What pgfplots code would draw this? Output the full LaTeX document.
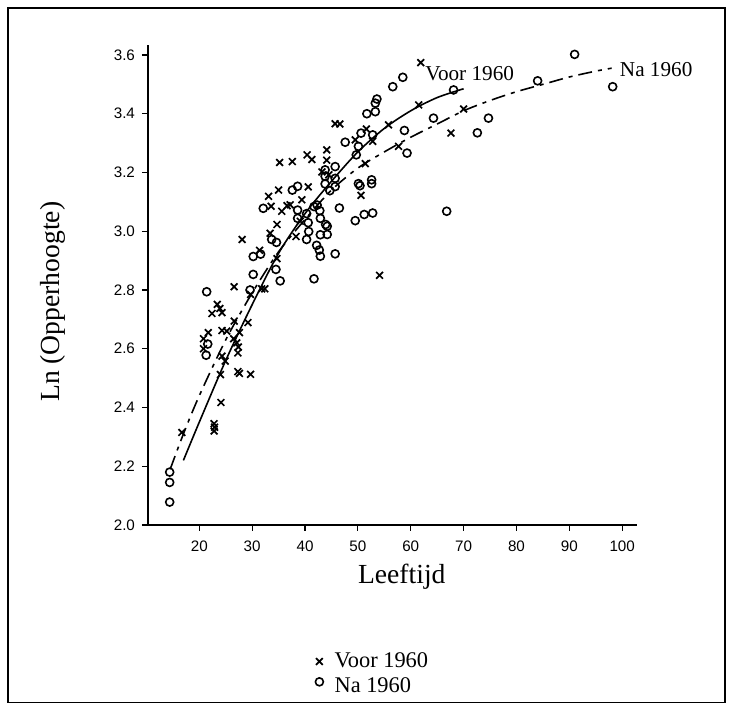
\documentclass[border=0pt]{standalone}
\usepackage{fontspec}
\setmainfont{Liberation Serif}
\newfontfamily\tickfont{Liberation Sans}
\usepackage{pgfplots}
\pgfplotsset{compat=1.18}
\usepackage{pgfplotstable}

\pgfplotsset{
    markleg/.style={legend image code/.code={\draw[##1] plot coordinates {(0pt,0pt)};}},
    marklegup/.style={legend image code/.code={\draw[##1] plot coordinates {(0pt,2.5pt)};}},
}

% metingen voor 1960 (kruisjes)
\pgfplotstableread{
x y
16.7 2.315
22.8 2.345
22.9 2.333
22.8 2.320
24.1 2.417
24.0 2.512
27.3 2.522
27.6 2.516
29.7 2.513
24.9 2.558
24.3 2.575
27.3 2.586
20.8 2.600
26.5 2.634
27.1 2.620
27.4 2.606
20.8 2.634
21.7 2.655
24.3 2.662
25.2 2.660
27.6 2.655
26.6 2.694
29.2 2.689
22.4 2.720
24.3 2.723
23.4 2.751
23.9 2.737
26.6 2.811
29.7 2.785
31.8 2.804
32.4 2.804
28.1 2.972
31.4 2.935
34.7 2.907
33.4 2.993
34.7 3.023
38.3 2.982
33.1 3.119
33.6 3.085
35.0 3.140
35.6 3.068
36.6 3.087
37.2 3.090
39.4 3.107
40.6 3.151
39.1 3.034
35.2 3.234
37.6 3.237
40.4 3.260
41.3 3.244
44.1 3.277
44.1 3.242
43.2 3.202
44.5 3.192
45.7 3.366
46.6 3.365
49.5 3.311
51.6 3.348
52.8 3.306
51.4 3.230
50.6 3.122
54.1 2.850
55.8 3.362
57.7 3.289
61.5 3.430
61.9 3.574
67.6 3.334
70.0 3.416
}\voor

% metingen na 1960 (rondjes)
\pgfplotstableread{
x y
14.4 2.180
14.4 2.145
14.4 2.078
21.3 2.578
21.6 2.616
21.4 2.794
29.6 2.800
30.2 2.853
30.2 2.914
31.6 2.922
34.5 2.870
35.3 2.831
33.7 2.972
34.6 2.962
32.1 3.078
37.6 3.140
38.6 3.153
38.6 3.072
38.6 3.044
40.3 3.060
40.6 3.029
40.7 2.999
40.3 2.972
41.7 3.084
42.3 3.089
42.8 3.070
42.9 3.044
43.9 3.023
44.2 3.017
42.9 2.988
44.2 2.989
42.2 2.952
42.7 2.936
42.9 2.915
41.7 2.838
45.7 2.923
43.8 3.209
43.8 3.187
43.8 3.161
45.7 3.220
45.7 3.180
45.7 3.152
44.7 3.138
46.5 3.079
47.6 3.303
50.6 3.334
52.8 3.328
50.1 3.289
49.7 3.260
51.7 3.400
53.3 3.407
53.3 3.436
53.6 3.450
56.6 3.492
58.5 3.524
58.8 3.343
59.3 3.266
64.3 3.385
68.1 3.481
72.6 3.335
74.7 3.385
50.1 3.162
50.4 3.155
52.6 3.175
52.6 3.162
49.5 3.036
51.2 3.057
52.8 3.062
66.8 3.068
84.0 3.512
91.0 3.602
98.2 3.492
}\na

% aangepaste curves
\pgfplotstableread{
x y
17 2.22
20 2.35
25 2.56
30 2.75
35 2.925
40 3.06
45 3.17
50 3.27
55 3.35
60 3.41
65 3.455
70 3.485
}\voorfit

\pgfplotstableread{
x y
14.5 2.19
17 2.31
20 2.44
25 2.63
30 2.79
35 2.93
40 3.04
45 3.14
50 3.215
55 3.27
60 3.32
65 3.365
70 3.41
75 3.445
80 3.475
85 3.50
90 3.525
95 3.545
98 3.555
}\nafit

\begin{document}
\begin{tikzpicture}
\useasboundingbox (-74pt,-89.5pt) rectangle (292pt,262.5pt);
\draw[line width=0.8pt] (-70pt,-88.8pt) rectangle (288.5pt,258.5pt);
\begin{axis}[
    at={(0pt,0pt)}, anchor=south west,
    scale only axis, width=244.5pt, height=240pt,
    xmin=10.3, xmax=102.8, ymin=2.0, ymax=3.634,
    axis x line*=bottom, axis y line*=left,
    axis line style={line width=0.8pt},
    xtick={20,30,...,100},
    ytick={2,2.2,2.4,2.6,2.8,3,3.2,3.4,3.6},
    tick align=outside, major tick length=3pt,
    tick style={line width=0.6pt, black},
    /pgf/number format/assume math mode=true,
    tick label style={font=\tickfont\fontsize{7.6}{9}\selectfont},
    yticklabel style={/pgf/number format/fixed, /pgf/number format/fixed zerofill,
        /pgf/number format/precision=1},
    xticklabel style={yshift=-1.5pt},
    xlabel={Leeftijd}, ylabel={Ln (Opperhoogte)},
    label style={font=\fontsize{13.8}{16}\selectfont},
    xlabel style={at={(axis description cs:0.519,-0.08125)}, anchor=north, inner sep=0pt},
    ylabel style={at={(axis description cs:-0.195,0.465)}, anchor=center, inner sep=0pt},
    clip=false,
    legend style={at={(axis description cs:0.3415,-0.2625)}, anchor=north west,
        draw=none, fill=none, inner sep=0pt, row sep=2.5pt,
        font=\fontsize{11.2}{12}\selectfont,
        nodes={inner sep=0.6pt},
        /tikz/every odd column/.style={column sep=5pt}},
    legend cell align=left,
]
\addplot[only marks, mark=x, mark size=2.4pt, line width=0.85pt, black, markleg]
    table[x=x, y=y] {\voor};
\addlegendentry{Voor 1960}
\addplot[only marks, mark=o, mark size=2pt, line width=0.8pt, black, marklegup]
    table[x=x, y=y] {\na};
\addlegendentry{Na 1960}

\addplot[line width=0.8pt, black, smooth, forget plot] table[x=x, y=y] {\voorfit};
\addplot[line width=0.8pt, black, smooth, forget plot,
    dash pattern=on 7pt off 3pt on 2pt off 3pt] table[x=x, y=y] {\nafit};

\node[anchor=west, inner sep=0pt, font=\fontsize{10.6}{12}\selectfont]
    at (axis cs:62.7,3.538) {Voor 1960};
\node[anchor=west, inner sep=0pt, font=\fontsize{10.6}{12}\selectfont]
    at (axis cs:99.5,3.549) {Na 1960};
\end{axis}
\end{tikzpicture}
\end{document}
